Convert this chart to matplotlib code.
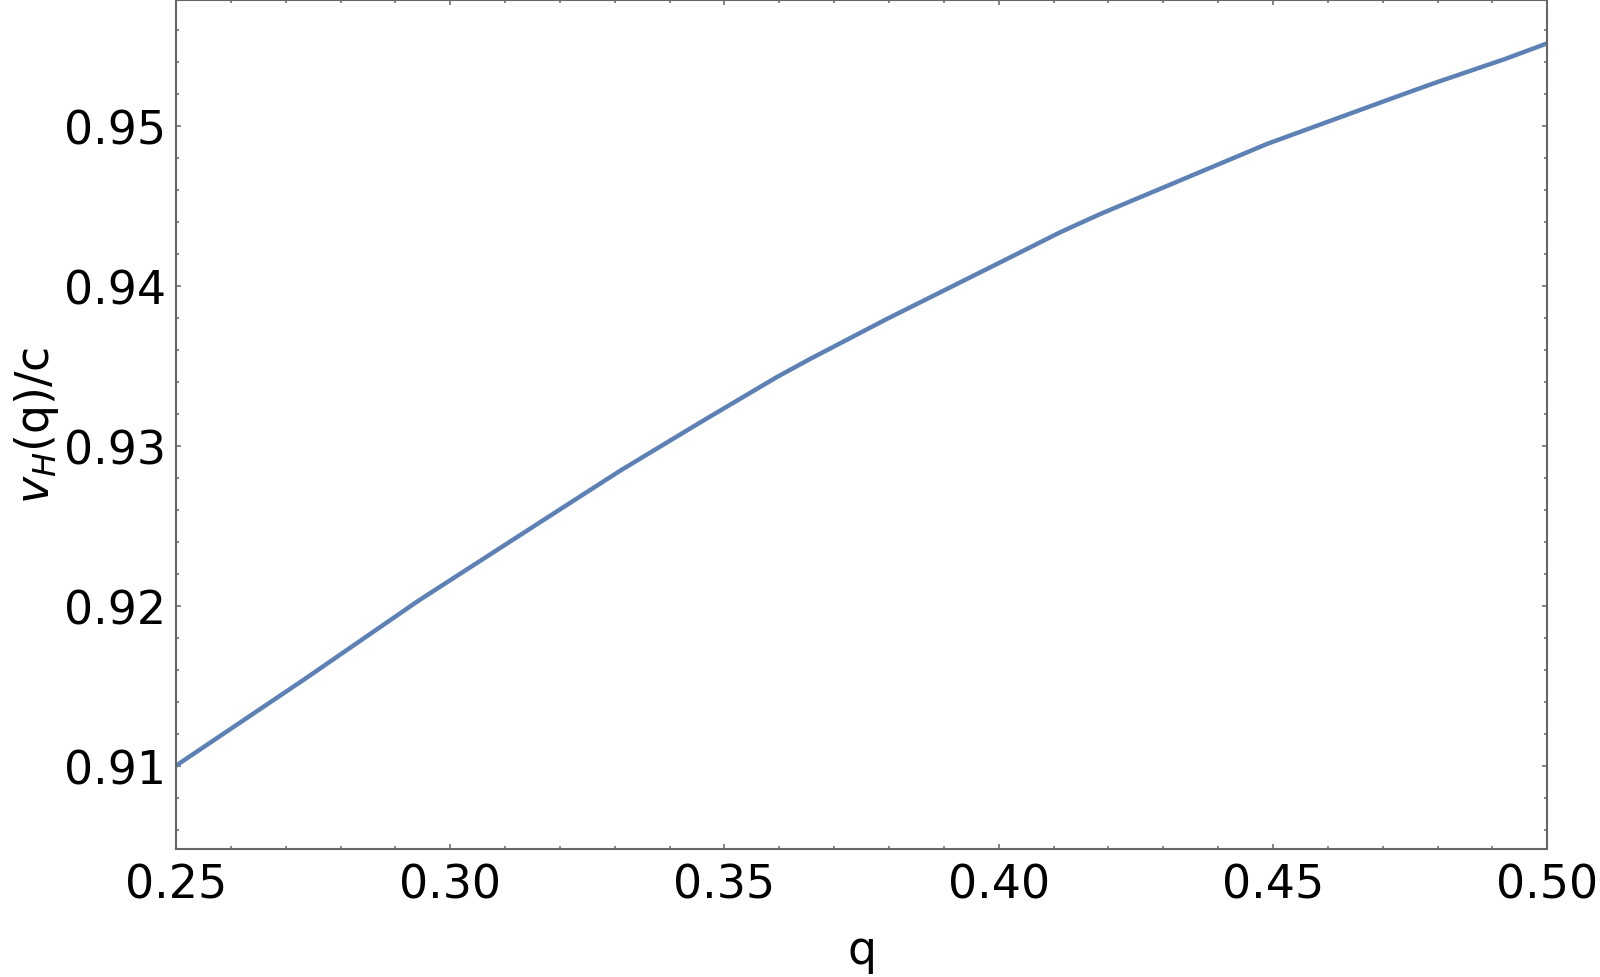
import matplotlib

matplotlib.use("Agg")

import matplotlib.pyplot as plt
from matplotlib.ticker import MultipleLocator, FormatStrFormatter

# values
q_vals = [0.250, 0.2732, 0.2942, 0.3173, 0.3310, 0.3456, 0.3595, 0.3656, 0.3796,
          0.3869, 0.4015, 0.4112, 0.4185, 0.4489, 0.4720, 0.4793, 0.4923, 0.500]
v_vals = [0.91000, 0.91535, 0.92031, 0.92542, 0.92844, 0.93146, 0.93428, 0.93542, 0.93792,
          0.93917, 0.94167, 0.94334, 0.94448, 0.94886, 0.95175, 0.95265, 0.95417, 0.95515]

X_LIM = (0.25, 0.50)
Y_LIM = (0.90481, 0.95783)
LINE_COLOR = "#5e81b5"
FRAME_COLOR = "#666666"

plt.rcParams.update({"font.family": "DejaVu Sans", "font.size": 33})

fig = plt.figure(figsize=(16, 9.78), dpi=100)
ax = fig.add_axes([0.110, 0.1312, 0.857, 0.8673])

ax.plot(q_vals, v_vals, color=LINE_COLOR, linewidth=3.2, solid_joinstyle="round")

ax.set_xlim(*X_LIM)
ax.set_ylim(*Y_LIM)

ax.xaxis.set_major_locator(MultipleLocator(0.05))
ax.xaxis.set_minor_locator(MultipleLocator(0.01))
ax.yaxis.set_major_locator(MultipleLocator(0.01))
ax.yaxis.set_minor_locator(MultipleLocator(0.002))
ax.xaxis.set_major_formatter(FormatStrFormatter("%.2f"))
ax.yaxis.set_major_formatter(FormatStrFormatter("%.2f"))

for spine in ax.spines.values():
    spine.set_color(FRAME_COLOR)
    spine.set_linewidth(1.5)

ax.tick_params(which="both", direction="in", top=True, right=True, color=FRAME_COLOR, width=1.1)
ax.tick_params(which="major", length=3.3, labelsize=33)
ax.tick_params(axis="x", which="major", pad=10)
ax.tick_params(axis="y", which="major", pad=7)
ax.tick_params(which="minor", length=1.9)

ax.set_xlabel("q", fontsize=33, labelpad=15)
ax.set_ylabel(r"$v_H$(q)/c", fontsize=33, labelpad=2)

fig.savefig("out.png", dpi=100, facecolor="white")
